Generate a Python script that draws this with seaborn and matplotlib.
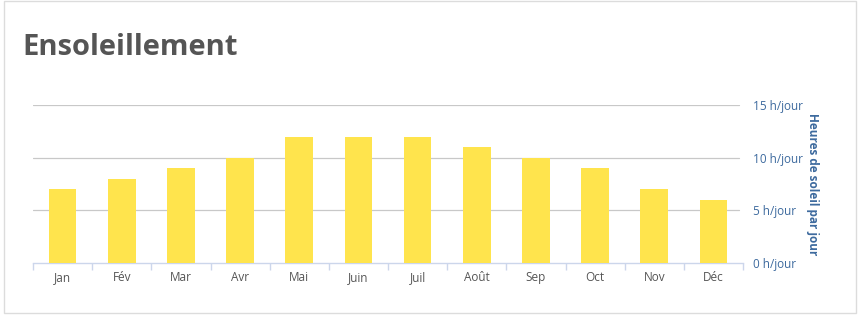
import matplotlib
matplotlib.use("Agg")
import matplotlib.pyplot as plt
import seaborn as sns
import pandas as pd
from matplotlib.patches import Rectangle

months = ["Jan", "Fév", "Mar", "Avr", "Mai", "Juin", "Juil", "Août", "Sep", "Oct", "Nov", "Déc"]
hours = [7, 8, 9, 10, 12, 12, 12, 11, 10, 9, 7, 6]
yticks = [0, 5, 10, 15]
ytick_labels = ["0 h/jour", "5 h/jour", "10 h/jour", "15 h/jour"]

sns.set_style("white")
plt.rcParams['font.family'] = ['Open Sans', 'DejaVu Sans']

df = pd.DataFrame({"mois": months, "heures": hours})

fig = plt.figure(figsize=(8.6, 3.17), dpi=100)
fig.patch.set_facecolor("white")
# card border
card = Rectangle((4/860, 4/317), 852/860, 312/317, transform=fig.transFigure,
                 facecolor="none", edgecolor="#dcdcdc", lw=1.0, zorder=-5)
fig.patches.append(card)

ax = fig.add_axes([33/860, 54/317, 710/860, 158/317])
ax.set_facecolor("none")
sns.barplot(data=df, x="mois", y="heures", color="#FFE44D", saturation=1, width=0.47, ax=ax, zorder=3)
for p in ax.patches:
    p.set_edgecolor("none")

ax.set_xlim(-0.5, 11.5)
ax.set_ylim(0, 15)
ax.yaxis.tick_right()
ax.yaxis.set_label_position("right")
ax.set_yticks(yticks)
ax.set_yticklabels(ytick_labels, color="#3d6a9e", fontsize=8.5)
ax.tick_params(axis="y", length=0, pad=7)
for y in yticks[1:]:
    ax.axhline(y, color="#c8c8c8", lw=0.9, zorder=1, xmax=0.995)
ax.set_ylabel("Heures de soleil par jour", rotation=270, labelpad=12, color="#3d6a9e",
              fontsize=8.5, fontweight="bold")
ax.set_xlabel("")
ax.set_xticks(range(12))
ax.set_xticklabels(months, color="#555555", fontsize=8.5)
ax.set_xticks([i - 0.5 for i in range(13)], minor=True)
ax.tick_params(axis="x", which="major", length=0, pad=6)
ax.tick_params(axis="x", which="minor", bottom=True, length=5, color="#ccd6eb", width=1)
for s in ["top", "left", "right"]:
    ax.spines[s].set_visible(False)
ax.spines["bottom"].set_color("#ccd6eb")
ax.spines["bottom"].set_linewidth(1)

fig.text(22/860, 1 - 55/317, "Ensoleillement", fontsize=21, fontweight="bold", color="#555555")

fig.savefig("out.png", dpi=100, facecolor=fig.get_facecolor())
